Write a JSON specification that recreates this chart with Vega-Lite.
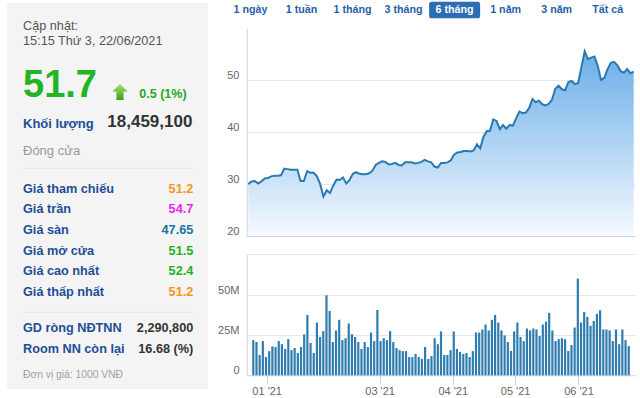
{
  "$schema": "https://vega.github.io/schema/vega-lite/v6.json",
  "width": 640,
  "height": 398,
  "autosize": {"type": "none"},
  "padding": 0,
  "background": "#ffffff",
  "config": {
    "font": "Liberation Sans",
    "view": {"stroke": null},
    "axis": {"labelFont": "Liberation Sans", "labelColor": "#666666", "labelFontSize": 11, "domainColor": "#ccd6eb", "tickColor": "#ccd6eb", "gridColor": "#e6e6e6", "ticks": false, "title": null, "labelFlush": false, "labelOverlap": false}
  },
  "datasets": {
    "days": [
      {"i":0,"p":30.0,"v":21.8},{"i":1,"p":30.5,"v":20.6},{"i":2,"p":30.6,"v":12.6},{"i":3,"p":30.1,"v":21.2},{"i":4,"p":30.5,"v":11.3},
      {"i":5,"p":31.1,"v":15.0},{"i":6,"p":31.2,"v":17.9},{"i":7,"p":31.5,"v":17.5},{"i":8,"p":31.6,"v":21.2},{"i":9,"p":31.6,"v":19.3},
      {"i":10,"p":31.7,"v":16.3},{"i":11,"p":33.0,"v":22.4},{"i":12,"p":32.9,"v":15.6},{"i":13,"p":32.8,"v":16.9},{"i":14,"p":32.8,"v":13.8},
      {"i":15,"p":32.8,"v":17.5},{"i":16,"p":30.6,"v":25.3},{"i":17,"p":30.6,"v":37.4},{"i":18,"p":32.5,"v":20.0},{"i":19,"p":32.2,"v":13.8},
      {"i":20,"p":32.2,"v":32.7},{"i":21,"p":31.5,"v":23.7},{"i":22,"p":30.0,"v":27.4},{"i":23,"p":27.6,"v":49.6},{"i":24,"p":28.8,"v":39.9},
      {"i":25,"p":28.3,"v":20.6},{"i":26,"p":29.7,"v":27.8},{"i":27,"p":30.9,"v":34.4},{"i":28,"p":30.8,"v":21.8},{"i":29,"p":31.3,"v":23.0},
      {"i":30,"p":30.1,"v":32.1},{"i":31,"p":30.8,"v":25.5},{"i":32,"p":32.0,"v":23.7},{"i":33,"p":32.3,"v":20.6},{"i":34,"p":32.0,"v":16.3},
      {"i":35,"p":31.9,"v":20.6},{"i":36,"p":31.9,"v":17.5},{"i":37,"p":32.1,"v":26.5},{"i":38,"p":32.6,"v":21.2},{"i":39,"p":33.7,"v":40.5},
      {"i":40,"p":34.1,"v":21.2},{"i":41,"p":34.4,"v":23.0},{"i":42,"p":34.3,"v":21.8},{"i":43,"p":33.8,"v":27.4},{"i":44,"p":33.9,"v":20.6},
      {"i":45,"p":34.1,"v":16.9},{"i":46,"p":33.7,"v":15.6},{"i":47,"p":33.6,"v":15.0},{"i":48,"p":34.2,"v":15.0},{"i":49,"p":34.2,"v":11.3},
      {"i":50,"p":34.2,"v":11.3},{"i":51,"p":34.0,"v":13.2},{"i":52,"p":34.1,"v":11.3},{"i":53,"p":34.3,"v":10.1},{"i":54,"p":34.7,"v":17.5},
      {"i":55,"p":34.4,"v":10.1},{"i":56,"p":34.2,"v":11.9},{"i":57,"p":33.4,"v":23.0},{"i":58,"p":33.2,"v":19.3},{"i":59,"p":34.1,"v":27.2},
      {"i":60,"p":34.1,"v":12.6},{"i":61,"p":34.2,"v":12.6},{"i":62,"p":34.6,"v":15.6},{"i":63,"p":35.7,"v":27.2},{"i":64,"p":36.1,"v":16.3},
      {"i":65,"p":36.2,"v":14.4},{"i":66,"p":36.4,"v":13.2},{"i":67,"p":36.4,"v":13.8},{"i":68,"p":36.3,"v":11.3},{"i":69,"p":36.5,"v":15.0},
      {"i":70,"p":37.7,"v":26.5},{"i":71,"p":36.9,"v":26.5},{"i":72,"p":39.1,"v":28.4},{"i":73,"p":40.2,"v":31.5},{"i":74,"p":40.3,"v":27.8},
      {"i":75,"p":42.5,"v":34.4},{"i":76,"p":42.2,"v":37.4},{"i":77,"p":40.6,"v":32.7},{"i":78,"p":41.4,"v":27.8},{"i":79,"p":40.7,"v":24.7},
      {"i":80,"p":41.4,"v":20.6},{"i":81,"p":41.3,"v":15.0},{"i":82,"p":42.7,"v":27.2},{"i":83,"p":44.0,"v":32.7},{"i":84,"p":43.7,"v":23.7},
      {"i":85,"p":43.8,"v":21.2},{"i":86,"p":44.7,"v":29.0},{"i":87,"p":46.4,"v":27.8},{"i":88,"p":45.8,"v":29.0},{"i":89,"p":46.1,"v":28.4},
      {"i":90,"p":45.4,"v":24.3},{"i":91,"p":45.2,"v":31.5},{"i":92,"p":45.5,"v":33.3},{"i":93,"p":46.3,"v":38.7},{"i":94,"p":48.4,"v":27.8},
      {"i":95,"p":49.0,"v":21.2},{"i":96,"p":48.3,"v":22.4},{"i":97,"p":48.1,"v":23.0},{"i":98,"p":49.7,"v":22.4},{"i":99,"p":49.9,"v":15.0},
      {"i":100,"p":49.3,"v":18.7},{"i":101,"p":49.5,"v":29.6},{"i":102,"p":52.6,"v":59.9},{"i":103,"p":55.6,"v":32.7},{"i":104,"p":54.1,"v":39.3},
      {"i":105,"p":54.4,"v":36.2},{"i":106,"p":54.6,"v":30.7},{"i":107,"p":52.8,"v":33.7},{"i":108,"p":50.1,"v":38.1},{"i":109,"p":50.5,"v":40.3},
      {"i":110,"p":52.2,"v":28.4},{"i":111,"p":53.4,"v":28.4},{"i":112,"p":53.6,"v":27.8},{"i":113,"p":52.9,"v":21.2},{"i":114,"p":51.8,"v":28.4},
      {"i":115,"p":51.5,"v":19.3},{"i":116,"p":52.2,"v":28.4},{"i":117,"p":51.4,"v":21.8},{"i":118,"p":51.7,"v":18.1}
    ],
    "quotes": [
      {"label": "Giá tham chiếu", "value": "51.2"},
      {"label": "Giá trần", "value": "54.7"},
      {"label": "Giá sàn", "value": "47.65"},
      {"label": "Giá mở cửa", "value": "51.5"},
      {"label": "Giá cao nhất", "value": "52.4"},
      {"label": "Giá thấp nhất", "value": "51.2"}
    ],
    "foreign": [
      {"label": "GD ròng NĐTNN", "value": "2,290,800"},
      {"label": "Room NN còn lại", "value": "16.68 (%)"}
    ],
    "ranges": [
      {"range": "1 ngày"}, {"range": "1 tuần"}, {"range": "1 tháng"}, {"range": "3 tháng"},
      {"range": "6 tháng"}, {"range": "1 năm"}, {"range": "3 năm"}, {"range": "Tất cả"}
    ]
  },
  "resolve": {
    "scale": {"x": "independent", "y": "independent", "color": "independent"},
    "axis": {"x": "independent", "y": "independent"}
  },
  "layer": [
    {
      "data": {"values": [{"panel": "stock summary"}]},
      "mark": {"type": "rect", "color": "#f4f4f4"},
      "encoding": {
        "x": {"datum": 0, "type": "quantitative", "scale": {"domain": [0, 1], "range": [7, 208], "nice": false, "zero": false}, "axis": null},
        "x2": {"datum": 1},
        "y": {"datum": 0, "type": "quantitative", "scale": {"domain": [0, 1], "range": [3, 389], "nice": false, "zero": false}, "axis": null},
        "y2": {"datum": 1}
      }
    },
    {
      "data": {"values": [{"t": "Cập nhật:"}, {"t": "15:15 Thứ 3, 22/06/2021"}]},
      "mark": {"type": "text", "align": "left", "baseline": "middle", "fontSize": 12.7, "color": "#555555"},
      "encoding": {
        "x": {"datum": 0, "type": "quantitative", "scale": {"domain": [0, 1], "range": [23, 193.3], "nice": false, "zero": false}, "axis": null},
        "y": {"field": "t", "type": "nominal", "sort": null, "scale": {"type": "point", "padding": 0, "range": [26, 41]}, "axis": null},
        "text": {"field": "t"}
      }
    },
    {
      "layer": [
        {
          "data": {"values": [{"price": 51.7}]},
          "mark": {"type": "text", "align": "left", "baseline": "alphabetic", "fontSize": 38, "fontWeight": "bold", "color": "#22b422", "dy": 2.4},
          "encoding": {
            "x": {"datum": 0, "type": "quantitative", "scale": {"domain": [0, 1], "range": [23, 193.3], "nice": false, "zero": false}, "axis": null},
            "y": {"datum": "price", "type": "nominal", "scale": {"type": "point", "domain": ["price", "vol", "close"], "range": [94.3, 151], "padding": 0}, "axis": null},
            "text": {"field": "price", "type": "quantitative", "format": ".1f"}
          }
        },
        {
          "data": {"values": [{"change": 0.5}]},
          "mark": {"type": "point", "filled": true, "opacity": 1, "size": 256, "shape": "M0,-1.29L0.95,-0.34L0.45,-0.34L0.45,0.71L-0.45,0.71L-0.45,-0.34L-0.95,-0.34Z",
            "color": {"x1": 0, "y1": 0, "x2": 0, "y2": 1, "gradient": "linear", "stops": [{"offset": 0, "color": "#a8e06a"}, {"offset": 1, "color": "#3a9e20"}]}},
          "encoding": {
            "x": {"datum": 0.5696, "type": "quantitative", "scale": {"domain": [0, 1], "range": [23, 193.3], "nice": false, "zero": false}, "axis": null},
            "y": {"datum": "price", "type": "nominal", "scale": {"type": "point", "domain": ["price", "vol", "close"], "range": [94.3, 151], "padding": 0}, "axis": null}
          }
        },
        {
          "data": {"values": [{"change": "0.5 (1%)"}]},
          "mark": {"type": "text", "align": "left", "baseline": "middle", "fontSize": 12.5, "fontWeight": "bold", "color": "#22aa22", "dx": 116.3},
          "encoding": {
            "x": {"datum": 0, "type": "quantitative", "scale": {"domain": [0, 1], "range": [23, 193.3], "nice": false, "zero": false}, "axis": null},
            "y": {"datum": "price", "type": "nominal", "scale": {"type": "point", "domain": ["price", "vol", "close"], "range": [94.3, 151], "padding": 0}, "axis": null},
            "text": {"field": "change"}
          }
        },
        {
          "data": {"values": [{"label": "Khối lượng", "value": "18,459,100"}]},
          "layer": [
            {
              "mark": {"type": "text", "align": "left", "baseline": "middle", "fontSize": 13, "fontWeight": "bold", "color": "#1e4e95", "dy": 1.3},
              "encoding": {
                "x": {"datum": 0, "type": "quantitative", "scale": {"domain": [0, 1], "range": [23, 193.3], "nice": false, "zero": false}, "axis": null},
                "y": {"datum": "vol", "type": "nominal", "scale": {"type": "point", "domain": ["price", "vol", "close"], "range": [94.3, 151], "padding": 0}, "axis": null},
                "text": {"field": "label"}
              }
            },
            {
              "mark": {"type": "text", "align": "left", "baseline": "middle", "fontSize": 17, "fontWeight": "bold", "color": "#333333", "dx": 84.3, "dy": -0.6},
              "encoding": {
                "x": {"datum": 0, "type": "quantitative", "scale": {"domain": [0, 1], "range": [23, 193.3], "nice": false, "zero": false}, "axis": null},
                "y": {"datum": "vol", "type": "nominal", "scale": {"type": "point", "domain": ["price", "vol", "close"], "range": [94.3, 151], "padding": 0}, "axis": null},
                "text": {"field": "value"}
              }
            }
          ]
        },
        {
          "data": {"values": [{"label": "Đóng cửa"}]},
          "mark": {"type": "text", "align": "left", "baseline": "middle", "fontSize": 13, "color": "#999999"},
          "encoding": {
            "x": {"datum": 0, "type": "quantitative", "scale": {"domain": [0, 1], "range": [23, 193.3], "nice": false, "zero": false}, "axis": null},
            "y": {"datum": "close", "type": "nominal", "scale": {"type": "point", "domain": ["price", "vol", "close"], "range": [94.3, 151], "padding": 0}, "axis": null},
            "text": {"field": "label"}
          }
        }
      ]
    },
    {
      "layer": [
        {
          "data": {"values": [{"s": "sep1"}, {"s": "sep2"}]},
          "mark": {"type": "rule", "color": "#e3e3e3", "strokeWidth": 1},
          "encoding": {
            "x": {"datum": 0, "type": "quantitative", "scale": {"domain": [0, 1], "range": [23, 193.3], "nice": false, "zero": false}, "axis": null},
            "x2": {"datum": 1},
            "y": {"field": "s", "type": "nominal", "scale": {"type": "point", "padding": 0, "range": [168.3, 312.3], "domain": ["sep1", "Giá tham chiếu", "Giá trần", "Giá sàn", "Giá mở cửa", "Giá cao nhất", "Giá thấp nhất", "sep2"]}, "axis": null}
          }
        },
        {
          "data": {"name": "quotes"},
          "mark": {"type": "text", "align": "left", "baseline": "middle", "fontSize": 12.7, "fontWeight": "bold", "color": "#1e4e95"},
          "encoding": {
            "x": {"datum": 0, "type": "quantitative", "scale": {"domain": [0, 1], "range": [23, 193.3], "nice": false, "zero": false}, "axis": null},
            "y": {"field": "label", "type": "nominal", "scale": {"type": "point", "padding": 0, "range": [168.3, 312.3], "domain": ["sep1", "Giá tham chiếu", "Giá trần", "Giá sàn", "Giá mở cửa", "Giá cao nhất", "Giá thấp nhất", "sep2"]}, "axis": null},
            "text": {"field": "label"}
          }
        },
        {
          "data": {"name": "quotes"},
          "mark": {"type": "text", "align": "right", "baseline": "middle", "fontSize": 12.7, "fontWeight": "bold"},
          "encoding": {
            "x": {"datum": 1, "type": "quantitative", "scale": {"domain": [0, 1], "range": [23, 193.3], "nice": false, "zero": false}, "axis": null},
            "y": {"field": "label", "type": "nominal", "scale": {"type": "point", "padding": 0, "range": [168.3, 312.3], "domain": ["sep1", "Giá tham chiếu", "Giá trần", "Giá sàn", "Giá mở cửa", "Giá cao nhất", "Giá thấp nhất", "sep2"]}, "axis": null},
            "text": {"field": "value"},
            "color": {"field": "label", "type": "nominal", "legend": null, "scale": {"domain": ["Giá tham chiếu", "Giá trần", "Giá sàn", "Giá mở cửa", "Giá cao nhất", "Giá thấp nhất"], "range": ["#f7941d", "#ee22ee", "#1a73a8", "#1db21d", "#1db21d", "#f7941d"]}}
          }
        }
      ]
    },
    {
      "data": {"name": "foreign"},
      "layer": [
        {
          "mark": {"type": "text", "align": "left", "baseline": "middle", "fontSize": 12.7, "fontWeight": "bold", "color": "#1e4e95"},
          "encoding": {
            "x": {"datum": 0, "type": "quantitative", "scale": {"domain": [0, 1], "range": [23, 193.3], "nice": false, "zero": false}, "axis": null},
            "y": {"field": "label", "type": "nominal", "sort": null, "scale": {"type": "point", "padding": 0, "range": [327.7, 349]}, "axis": null},
            "text": {"field": "label"}
          }
        },
        {
          "mark": {"type": "text", "align": "right", "baseline": "middle", "fontSize": 12.7, "fontWeight": "bold", "color": "#333333"},
          "encoding": {
            "x": {"datum": 1, "type": "quantitative", "scale": {"domain": [0, 1], "range": [23, 193.3], "nice": false, "zero": false}, "axis": null},
            "y": {"field": "label", "type": "nominal", "sort": null, "scale": {"type": "point", "padding": 0, "range": [327.7, 349]}, "axis": null},
            "text": {"field": "value"}
          }
        }
      ]
    },
    {
      "data": {"values": [{"note": "Đơn vị giá: 1000 VNĐ"}]},
      "mark": {"type": "text", "align": "left", "baseline": "middle", "fontSize": 10.3, "color": "#a0a0a0"},
      "encoding": {
        "x": {"datum": 0, "type": "quantitative", "scale": {"domain": [0, 1], "range": [23, 193.3], "nice": false, "zero": false}, "axis": null},
        "y": {"field": "note", "type": "nominal", "scale": {"type": "point", "padding": 0, "range": [375, 375]}, "axis": null},
        "text": {"field": "note"}
      }
    },
    {
      "data": {"name": "ranges"},
      "layer": [
        {
          "transform": [{"filter": "datum.range === '6 tháng'"}],
          "mark": {"type": "point", "filled": true, "opacity": 1, "size": 2601, "color": "#2c6db3",
            "shape": "M-0.9,-0.325L0.9,-0.325Q1,-0.325 1,-0.225L1,0.225Q1,0.325 0.9,0.325L-0.9,0.325Q-1,0.325 -1,0.225L-1,-0.225Q-1,-0.325 -0.9,-0.325Z"},
          "encoding": {
            "x": {"field": "range", "type": "nominal", "scale": {"type": "point", "padding": 0, "range": [250.5, 607.7], "domain": ["1 ngày", "1 tuần", "1 tháng", "3 tháng", "6 tháng", "1 năm", "3 năm", "Tất cả"]}, "axis": null},
            "y": {"datum": 0, "type": "quantitative", "scale": {"domain": [0, 1], "range": [10, 20], "nice": false, "zero": false}, "axis": null}
          }
        },
        {
          "mark": {"type": "text", "align": "center", "baseline": "middle", "fontSize": 10.7, "fontWeight": "bold"},
          "encoding": {
            "x": {"field": "range", "type": "nominal", "scale": {"type": "point", "padding": 0, "range": [250.5, 607.7], "domain": ["1 ngày", "1 tuần", "1 tháng", "3 tháng", "6 tháng", "1 năm", "3 năm", "Tất cả"]}, "axis": null},
            "y": {"datum": 0, "type": "quantitative", "scale": {"domain": [0, 1], "range": [10, 20], "nice": false, "zero": false}, "axis": null},
            "text": {"field": "range"},
            "color": {"condition": {"test": "datum.range === '6 tháng'", "value": "#ffffff"}, "value": "#1f5fa8"}
          }
        }
      ]
    },
    {
      "data": {"name": "days"},
      "encoding": {
        "x": {"field": "i", "type": "quantitative", "scale": {"domain": [-0.5, 118.4], "range": [246.7, 635], "nice": false, "zero": false},
          "axis": {"orient": "bottom", "offset": -162, "labels": false, "ticks": false, "grid": false, "domain": true}},
        "y": {"field": "p", "type": "quantitative", "scale": {"domain": [20, 60], "range": [236, 28.6], "nice": false, "zero": false},
          "axis": {"orient": "left", "offset": -246.7, "values": [20, 30, 40, 50], "grid": true, "ticks": false, "domain": true, "labelPadding": 7.7, "labelBaseline": "alphabetic", "labelOffset": -1.5}}
      },
      "layer": [
        {
          "mark": {"type": "area", "line": false,
            "color": {"x1": 0, "y1": 0, "x2": 0, "y2": 1, "gradient": "linear", "stops": [{"offset": 0, "color": "#6aaee9"}, {"offset": 1, "color": "#f6faff"}]}},
          "encoding": {"y2": {"datum": 20}}
        },
        {
          "mark": {"type": "line", "color": "#2a7ab0", "strokeWidth": 2}
        }
      ]
    },
    {
      "data": {"name": "days"},
      "mark": {"type": "bar", "width": 2.2, "color": "#2f7db0"},
      "encoding": {
        "x": {"field": "i", "type": "quantitative", "scale": {"domain": [-0.5, 118.4], "range": [246.7, 635], "nice": false, "zero": false},
          "axis": {"orient": "bottom", "offset": -22.7, "values": [4.2, 39.7, 62.7, 82.3, 102.2], "ticks": true, "tickSize": 9, "labelPadding": 1, "grid": false,
            "labelExpr": "datum.value < 20 ? \"01 '21\" : datum.value < 50 ? \"03 '21\" : datum.value < 70 ? \"04 '21\" : datum.value < 90 ? \"05 '21\" : \"06 '21\""}},
        "y": {"field": "v", "type": "quantitative", "scale": {"domain": [0, 75], "range": [375.3, 254.3], "nice": false, "zero": false},
          "axis": {"orient": "left", "offset": -246.7, "values": [0, 25, 50, 75], "grid": true, "ticks": false, "labelPadding": 7.7, "labelBaseline": "alphabetic", "labelOffset": -1.5,
            "labelExpr": "datum.value == 0 ? '0' : datum.value == 75 ? '' : datum.value + 'M'"}}
      }
    }
  ]
}
